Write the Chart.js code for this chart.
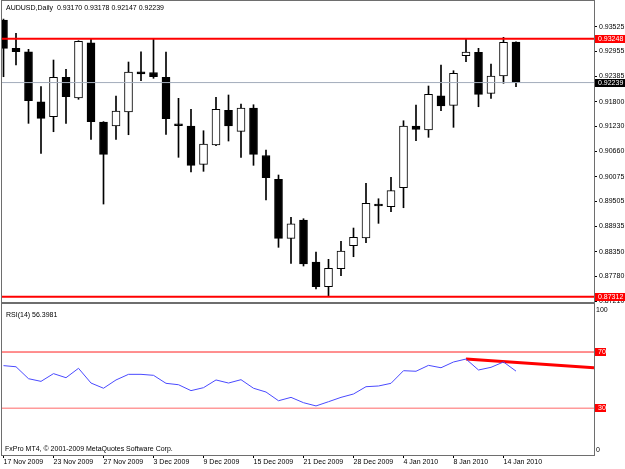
<!DOCTYPE html>
<html><head><meta charset="utf-8">
<script src="https://cdn.jsdelivr.net/npm/chart.js@4/dist/chart.umd.min.js"></script>
<style>
html,body{margin:0;padding:0;background:#fff;}
#wrap{position:relative;width:625px;height:469px;overflow:hidden;background:#fff;}
canvas{position:absolute;left:0;}
#c1{top:0;}
#c2{top:300px;}
.t{position:absolute;font:7px "Liberation Sans",Arial,sans-serif;color:#000;white-space:pre;line-height:8px;}
</style></head><body>
<div id="wrap">
<canvas id="c1" width="625" height="304"></canvas>
<canvas id="c2" width="625" height="169"></canvas>
<div class="t" style="left:6px;top:4px">AUDUSD,Daily  0.93170 0.93178 0.92147 0.92239</div>
<div class="t" style="left:6px;top:311px">RSI(14) 56.3981</div>
<div class="t" style="left:5px;top:445px">FxPro MT4, © 2001-2009 MetaQuotes Software Corp.</div>
</div>
<script>
const dates = ['17 Nov 2009','18 Nov 2009','19 Nov 2009','20 Nov 2009','23 Nov 2009','24 Nov 2009','25 Nov 2009','26 Nov 2009','27 Nov 2009','30 Nov 2009',
 '1 Dec 2009','2 Dec 2009','3 Dec 2009','4 Dec 2009','7 Dec 2009','8 Dec 2009','9 Dec 2009','10 Dec 2009','11 Dec 2009','14 Dec 2009',
 '15 Dec 2009','16 Dec 2009','17 Dec 2009','18 Dec 2009','21 Dec 2009','22 Dec 2009','23 Dec 2009','24 Dec 2009','28 Dec 2009','29 Dec 2009',
 '30 Dec 2009','31 Dec 2009','4 Jan 2010','5 Jan 2010','6 Jan 2010','7 Jan 2010','8 Jan 2010','11 Jan 2010','12 Jan 2010','13 Jan 2010',
 '14 Jan 2010','15 Jan 2010'];
const opens  = [0.93678,0.93027,0.92949,0.91798,0.91453,0.92360,0.91884,0.93156,0.91331,0.91239,0.91561,0.92489,0.92470,0.92360,0.91285,0.91239,0.90358,0.90802,0.91601,0.91117,0.91653,0.90560,0.90013,0.88655,0.89076,0.88110,0.87542,0.87956,0.88485,0.88662,0.89438,0.89382,0.89820,0.91239,0.91147,0.91936,0.91716,0.92857,0.92935,0.91992,0.92390,0.93170];
const highs  = [0.93700,0.93372,0.93004,0.92144,0.92758,0.92544,0.93202,0.93234,0.91340,0.91930,0.92712,0.92949,0.93234,0.92942,0.91877,0.91624,0.91131,0.91900,0.91953,0.91745,0.91729,0.90687,0.90112,0.89138,0.89106,0.88340,0.88172,0.88586,0.88892,0.89921,0.89566,0.90059,0.91361,0.91722,0.92160,0.92643,0.92512,0.93234,0.93027,0.92666,0.93280,0.93178];
const lows   = [0.92374,0.92643,0.91301,0.90611,0.91108,0.91301,0.91854,0.90933,0.89444,0.90933,0.91039,0.92282,0.92337,0.91048,0.90519,0.90181,0.90197,0.90790,0.90894,0.90519,0.90335,0.89537,0.88448,0.88080,0.88018,0.87489,0.87312,0.87795,0.88232,0.88554,0.89000,0.89267,0.89359,0.90901,0.90979,0.91591,0.91209,0.92719,0.91683,0.91877,0.92222,0.92147];
const closes = [0.93027,0.92949,0.91821,0.91416,0.92360,0.91913,0.93188,0.91338,0.90588,0.91584,0.92482,0.92436,0.92374,0.91407,0.91246,0.90335,0.90825,0.91624,0.91239,0.91653,0.90588,0.90050,0.88655,0.88991,0.88064,0.87542,0.87965,0.88363,0.88678,0.89461,0.89398,0.89751,0.91239,0.91163,0.91969,0.91699,0.92452,0.92942,0.91969,0.92390,0.93165,0.92239];
const rsi    = [60.3,59.5,51.0,49.1,54.6,51.7,58.4,47.9,44.2,50.1,54.1,54.1,53.4,47.7,46.7,42.5,44.6,50.1,47.9,50.3,44.2,41.5,35.3,37.7,33.9,31.6,34.6,37.7,40.1,45.3,45.8,47.7,56.7,56.3,60.5,58.8,62.9,65.0,57.2,59.1,62.9,56.4];
const priceTicks = [0.93525,0.92955,0.92385,0.91800,0.91230,0.90660,0.90075,0.89505,0.88935,0.88350,0.87780,0.87210];
const rsiTicks = [0,30,70,100];
const tickIdx = [0,4,8,12,16,20,24,28,32,36,40];
const tickLabels = ['17 Nov 2009','23 Nov 2009','27 Nov 2009','3 Dec 2009','9 Dec 2009','15 Dec 2009','21 Dec 2009','28 Dec 2009','4 Jan 2010','8 Jan 2010','14 Jan 2010'];
const resistance = 0.93248, support = 0.87312, bid = 0.92239;
const rsiLevels = [70, 30];
const trendX = [37, 47.24], trendY = [65.0, 58.8];

const XMIN = -0.12, XMAX = 47.24;
const FONT = {family:'"Liberation Sans", Arial, sans-serif', size:7};
const idx = dates.map((_, i) => i);
const hline = (v, color, w) => ({type:'line', data:[{x:XMIN,y:v},{x:XMAX,y:v}], borderColor:color, borderWidth:w, pointRadius:0, order:0});
const noPad = s => { s.paddingTop = 0; s.paddingBottom = 0; s.paddingLeft = 0; s.paddingRight = 0; };

function boxPlugin(items){
  return {
    id:'boxes',
    afterDraw(chart){
      const {ctx, chartArea:a, scales:{y}} = chart;
      ctx.save();
      ctx.strokeStyle = '#6e6e6e'; ctx.lineWidth = 1;
      ctx.strokeRect(a.left - 0.5, a.top - 0.5, a.right - a.left + 1, a.bottom - a.top + 1);
      ctx.font = '7px "Liberation Sans", Arial, sans-serif';
      ctx.textBaseline = 'middle';
      items.forEach(it => {
        const py = Math.round(y.getPixelForValue(it.v));
        ctx.fillStyle = it.bg;
        ctx.fillRect(a.right + 1, py - 4, it.w, 8);
        ctx.fillStyle = '#fff';
        ctx.fillText(it.t, a.right + 4, py + 0.5);
      });
      ctx.restore();
    }
  };
}

new Chart(document.getElementById('c1'), {
  type:'bar',
  data:{datasets:[
    {data: idx.map(i => ({x:i, y:[lows[i], highs[i]]})), backgroundColor:'#000', barThickness:1, grouped:false, order:3},
    {data: idx.map(i => ({x:i, y:[opens[i], closes[i]]})), backgroundColor: idx.map(i => closes[i] > opens[i] ? '#fff' : '#000'),
     borderColor:'#000', borderWidth:1, borderSkipped:false, barThickness:8, minBarLength:2, grouped:false, order:2},
    hline(bid, '#a3acbb', 1),
    hline(resistance, '#ff0000', 2),
    hline(support, '#ff0000', 2)
  ]},
  options:{
    responsive:false, animation:false, events:[],
    layout:{padding:{left:2, top:1, right:0, bottom:2}},
    plugins:{legend:{display:false}, tooltip:{enabled:false}},
    scales:{
      x:{type:'linear', min:XMIN, max:XMAX, display:false, offset:false},
      y:{position:'right', min:0.87190, max:0.94116,
         afterFit(s){ s.width = 31; noPad(s); },
         afterBuildTicks(s){ s.ticks = priceTicks.map(v => ({value:v})); },
         ticks:{font:FONT, color:'#000', padding:2, callback:v => v.toFixed(5)},
         grid:{drawOnChartArea:false, tickLength:3, color:'#000'},
         border:{color:'#6e6e6e'}}
    }
  },
  plugins:[boxPlugin([
    {v:resistance, t:'0.93248', bg:'#ff0000', w:31},
    {v:bid, t:'0.92239', bg:'#000000', w:31},
    {v:support, t:'0.87312', bg:'#ff0000', w:31}
  ])]
});

new Chart(document.getElementById('c2'), {
  type:'line',
  data:{datasets:[
    hline(rsiLevels[0], '#ff2020', 1),
    hline(rsiLevels[1], '#ff9a9a', 1.5),
    {data: idx.map(i => ({x:i, y:rsi[i]})), borderColor:'#4a4aff', borderWidth:1, pointRadius:0, tension:0},
    {data: trendX.map((x, i) => ({x, y:trendY[i]})), borderColor:'#ff0000', borderWidth:3, pointRadius:0}
  ]},
  options:{
    responsive:false, animation:false, events:[],
    layout:{padding:{left:2, top:4, right:0, bottom:0}},
    plugins:{legend:{display:false}, tooltip:{enabled:false}},
    scales:{
      x:{type:'linear', min:XMIN, max:XMAX, offset:false,
         afterFit(s){ s.height = 14; noPad(s); },
         afterBuildTicks(s){ s.ticks = tickIdx.map(v => ({value:v})); },
         ticks:{font:FONT, color:'#000', padding:0, align:'start', maxRotation:0, autoSkip:false,
                callback:(v, i) => tickLabels[i]},
         grid:{drawOnChartArea:false, tickLength:3, color:'#000'},
         border:{color:'#6e6e6e'}},
      y:{position:'right', min:-3.35, max:104.2,
         afterFit(s){ s.width = 31; noPad(s); },
         afterBuildTicks(s){ s.ticks = rsiTicks.map(v => ({value:v})); },
         ticks:{font:FONT, color:'#000', padding:2, callback:v => String(v)},
         grid:{drawOnChartArea:false, tickLength:0, color:'#000'},
         border:{color:'#6e6e6e'}}
    }
  },
  plugins:[boxPlugin([
    {v:rsiLevels[0], t:'70', bg:'#ff0000', w:11},
    {v:rsiLevels[1], t:'30', bg:'#ff0000', w:11}
  ])]
});
</script>
</body></html>
